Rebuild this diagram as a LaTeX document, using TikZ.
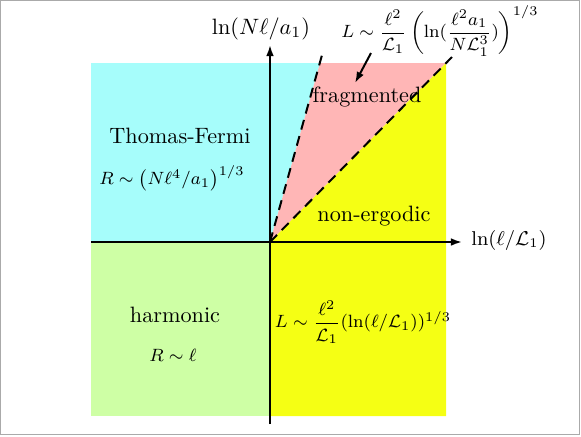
\documentclass[tikz,border=0pt]{standalone}
\usepackage{amsmath}
\usetikzlibrary{arrows.meta}
\definecolor{tfcyan}{RGB}{166,253,251}
\definecolor{frpink}{RGB}{255,182,182}
\definecolor{neyellow}{RGB}{245,255,20}
\definecolor{hmgreen}{RGB}{206,255,165}
\definecolor{framegray}{RGB}{170,170,170}
\tikzset{
  axisline/.style={line width=0.9pt,-{Latex[length=5pt,width=3.5pt]}},
  bound/.style={line width=0.9pt,dash pattern=on 4.5pt off 3pt},
  lbl/.style={inner sep=1pt,font=\normalsize},
  fml/.style={inner sep=1pt,font=\fontsize{8.2}{10}\selectfont}
}
\begin{document}
\begin{tikzpicture}[x=0.45pt,y=-0.45pt]
\useasboundingbox (0,0) rectangle (581,436);
\draw[framegray,line width=0.7pt] (0.7,0.7) rectangle (579.5,434.5);
\coordinate (O) at (270,242);
% regions
\fill[tfcyan] (91,63) -- (320,63) -- (O) -- (91,242) -- cycle;
\fill[hmgreen] (91,242) -- (270,242) -- (270,416) -- (91,416) -- cycle;
\fill[frpink] (O) -- (320,63) -- (446,63) -- cycle;
\fill[neyellow] (O) -- (446,63) -- (446,416) -- (270,416) -- cycle;
% axes
\coordinate (xs) at (91,242);
\coordinate (xe) at (462,242);
\coordinate (ys) at (270,424);
\coordinate (ye) at (270,45);
\draw[axisline] (xs) -- (xe);
\draw[axisline] (ys) -- (ye);
% boundaries
\coordinate (s1) at (322,55);
\coordinate (s2) at (452,57);
\draw[bound] (O) -- (s1);
\draw[bound] (O) -- (s2);
% labels
\node[lbl,font=\fontsize{9}{11}\selectfont] (xl) at (509,240) {$\ln(\ell/\mathcal{L}_1)$};
\node[lbl,font=\fontsize{9.6}{11}\selectfont] (yl) at (261,29) {$\ln(N\ell/a_1)$};
\node[lbl] (tf) at (180,136) {Thomas-Fermi};
\node[fml] (tfr) at (172,178) {$R\sim\left(N\ell^4/a_1\right)^{1/3}$};
\node[lbl] (hm) at (175,315) {harmonic};
\node[fml] (hmr) at (173,355) {$R\sim\ell$};
\node[lbl] (ne) at (374,216) {non-ergodic};
\node[lbl] (fr) at (367,97) {fragmented};
\node[fml] (nel) at (363,322) {$L\sim\dfrac{\ell^2}{\mathcal{L}_1}(\ln(\ell/\mathcal{L}_1))^{1/3}$};
\node[fml] (frl) at (440,31) {$L\sim\dfrac{\ell^2}{\mathcal{L}_1}\left(\ln(\dfrac{\ell^2a_1}{N\mathcal{L}_1^3})\right)^{1/3}$};
\coordinate (a1) at (371,53);
\coordinate (a2) at (355,83);
\draw[line width=0.9pt,-{Latex[length=5pt,width=3.5pt]}] (a1) -- (a2);
\end{tikzpicture}
\end{document}
